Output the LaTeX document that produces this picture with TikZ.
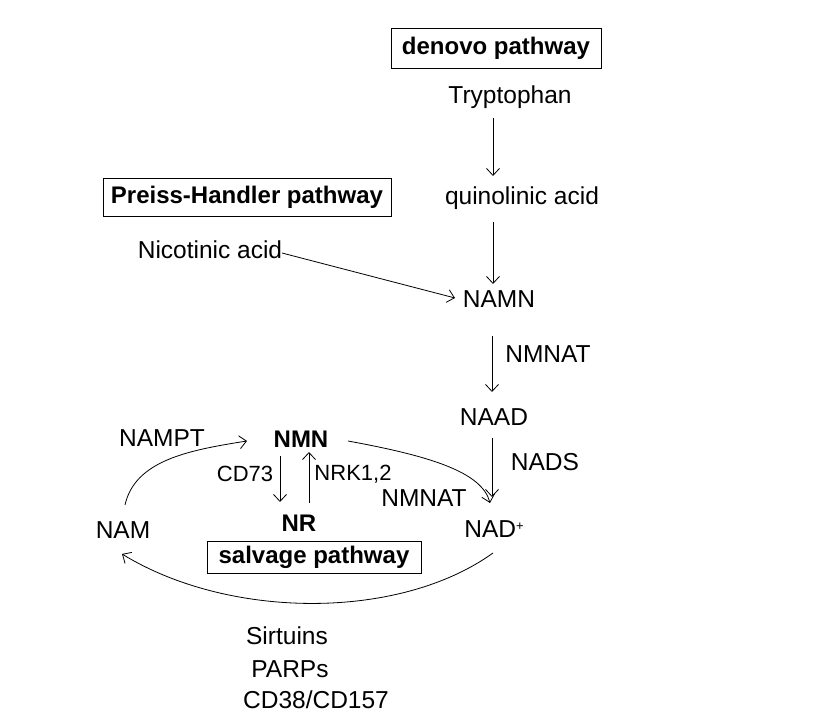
\documentclass[tikz,border=0pt]{standalone}
\usepackage{fontspec}
\setmainfont{Liberation Sans}
\usetikzlibrary{arrows.meta}
\begin{document}
\begin{tikzpicture}[x=1pt,y=-1pt,
  lbl/.style={inner sep=0pt,font=\fontsize{24.5}{28}\selectfont},
  small/.style={inner sep=0pt,font=\fontsize{22}{26}\selectfont},
  blbl/.style={inner sep=0pt,font=\fontsize{24}{28}\selectfont\bfseries},
  titlebox/.style={draw,line width=0.9pt,inner sep=0pt,font=\fontsize{24}{28}\selectfont\bfseries},
  arr/.style={line width=0.8pt,-{Straight Barb[length=7pt,width=13pt,line width=0.8pt]}}]
\useasboundingbox (0,0) rectangle (831,727);
% boxes
\node[titlebox,minimum width=210pt,minimum height=40pt] (denovo) at (496,48) {denovo pathway};
\node[titlebox,minimum width=288pt,minimum height=38pt] (preiss) at (247,197) {Preiss-Handler pathway};
\node[titlebox,minimum width=214pt,minimum height=32pt] (salvage) at (314,557) {salvage pathway};
% metabolites
\node[lbl] (tryp) at (510,97) {Tryptophan};
\node[lbl] (qa) at (522,198) {quinolinic acid};
\node[lbl] (namn) at (499,299) {NAMN};
\node[lbl] (naad) at (494,417) {NAAD};
\node[lbl] (nad) at (494,529) {NAD\raisebox{0.55ex}{\fontsize{13}{13}\selectfont+}};
\node[lbl] (nicacid) at (210,250) {Nicotinic acid};
\node[blbl] (nmn) at (301,439) {NMN};
\node[blbl] (nr) at (299,523) {NR};
\node[lbl] (nam) at (123,530) {NAM};
% enzyme labels
\node[lbl] (nmnat1) at (548,354) {NMNAT};
\node[lbl] (nads) at (545,462) {NADS};
\node[lbl] (nampt) at (162,438) {NAMPT};
\node[small] (cd73) at (245,474) {CD73};
\node[small] (nrk) at (353,474) {NRK1,2};
\node[lbl] (nmnat2) at (424,498) {NMNAT};
\node[lbl] (sirt) at (287,636) {Sirtuins};
\node[lbl] (parps) at (290,669) {PARPs};
\node[lbl] (cd38) at (316,700) {CD38/CD157};
% connectors
\draw[arr] ([shift={(-17,21)}]tryp.center) -- ([shift={(-29,-22)}]qa.center);
\draw[arr] ([shift={(-29,24)}]qa.center) -- ([shift={(-6,-15)}]namn.center);
\draw[arr] ([shift={(-7,37)}]namn.center) -- ([shift={(-2,-25)}]naad.center);
\draw[arr] ([shift={(-2,21)}]naad.center) -- ([shift={(-2,-32)}]nad.center);
\draw[arr] ([shift={(72,3)}]nicacid.center) -- ([shift={(-44,-1)}]namn.center);
\draw[arr] ([shift={(2,-25)}]nam.center) .. controls (135,460) and (190,450) .. ([shift={(-54,2)}]nmn.center);
\draw[arr] ([shift={(-21,17)}]nmn.center) -- ([shift={(-19,-21)}]nr.center);
\draw[arr] ([shift={(10,-20)}]nr.center) -- ([shift={(8,13)}]nmn.center);
\draw[arr] ([shift={(47,2)}]nmn.center) .. controls (430,456) and (482,472) .. ([shift={(-4,-26)}]nad.center);
\draw[arr] ([shift={(-1,24)}]nad.center) .. controls (400,620) and (230,620) .. ([shift={(-1,24)}]nam.center);
\end{tikzpicture}
\end{document}
